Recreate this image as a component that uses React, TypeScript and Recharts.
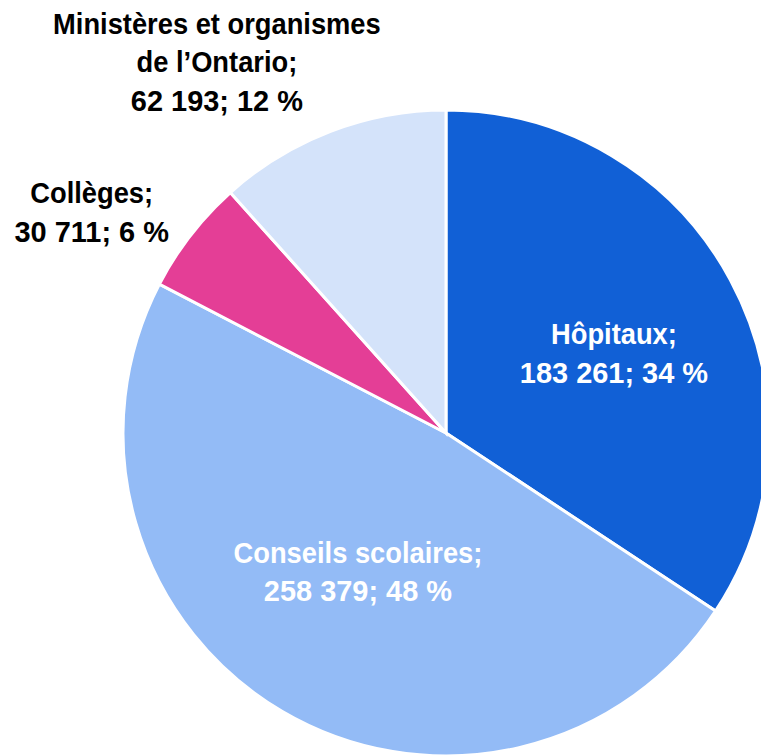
import { Cell, Pie, PieChart } from "recharts";

document.body.style.margin = "0";

const categories = [
  "Hôpitaux;",
  "Conseils scolaires;",
  "Collèges;",
  "Ministères et organismes|de l’Ontario;",
];
const values = [183261, 258379, 30711, 62193];
const valueLabels = ["183 261; 34 %", "258 379; 48 %", "30 711; 6 %", "62 193; 12 %"];
const colors = ["#1160D6", "#93BBF6", "#E43E96", "#D4E3FA"];
const textColors = ["#FFFFFF", "#FFFFFF", "#000000", "#000000"];
// label placement: radius as a share of outer radius, angle shift from mid angle
const labelRadius = [0.576, 0.507, 1.293, 1.352];
const labelShift = [-2.8, -2.1, 5.8, 10.7];

const data = values.map((value, i) => ({ name: categories[i], value }));

const RAD = Math.PI / 180;
const FONT = 30;
const LINE = 38.5;
// Liberation Sans squeezed to look like a narrow face
const SQUEEZE_NAME = 0.91;
const SQUEEZE_VALUE = 0.965;

function renderLabel(props: any) {
  const { cx, cy, midAngle, outerRadius, index } = props;
  const a = (midAngle + labelShift[index]) * RAD;
  const r = outerRadius * labelRadius[index];
  const x = cx + r * Math.cos(a);
  const y = cy - r * Math.sin(a);
  const names = categories[index].split("|");
  const lines = [...names, valueLabels[index]];
  const top = y - ((lines.length - 1) * LINE) / 2 + FONT * 0.36;
  return (
    <g key={`lbl-${index}`}>
      {lines.map((line, i) => (
        <g
          key={i}
          transform={`translate(${x},0) scale(${i < names.length ? SQUEEZE_NAME : SQUEEZE_VALUE},1)`}
        >
          <text
            x={0}
            y={top + i * LINE}
            textAnchor="middle"
            fill={textColors[index]}
            fontFamily="'Liberation Sans', Arial, sans-serif"
            fontWeight="bold"
            fontSize={FONT}
          >
            {line}
          </text>
        </g>
      ))}
    </g>
  );
}

export default function App() {
  return (
    <PieChart width={761} height={756} margin={{ top: 0, right: 0, bottom: 0, left: 0 }}>
      <Pie
        data={data}
        dataKey="value"
        nameKey="name"
        cx={446}
        cy={433}
        outerRadius={323}
        startAngle={90}
        endAngle={-270}
        stroke="#FFFFFF"
        strokeWidth={3}
        label={renderLabel}
        labelLine={false}
        isAnimationActive={false}
      >
        {data.map((_, i) => (
          <Cell key={i} fill={colors[i]} />
        ))}
      </Pie>
    </PieChart>
  );
}
